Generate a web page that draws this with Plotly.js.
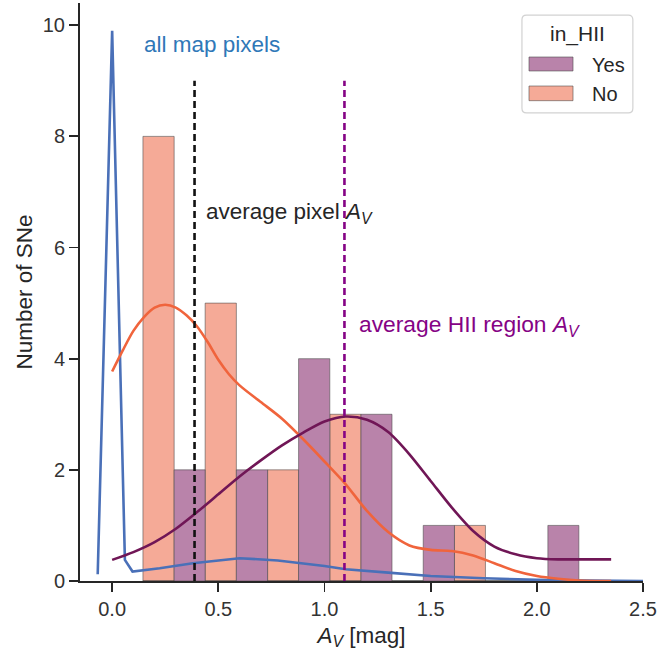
<!DOCTYPE html>
<html>
<head>
<meta charset="utf-8">
<script src="https://cdn.plot.ly/plotly-3.0.1.min.js"></script>
<style>html,body{margin:0;padding:0;background:#fff;}#chart{width:659px;height:656px;}</style>
</head>
<body>
<div id="chart"></div>
<script>
// ---- data ----
const binEdges = [0.145, 0.292, 0.438, 0.585, 0.732, 0.878, 1.025, 1.172, 1.318, 1.465, 1.612, 1.758, 1.905, 2.052, 2.198];
const countsYes = [0, 2, 0, 2, 0, 4, 0, 3, 0, 1, 0, 0, 0, 1];
const countsNo  = [8, 0, 5, 0, 2, 0, 3, 0, 0, 0, 1, 0, 0, 0];
const hueLevels = ["Yes", "No"];

const kdeYesX = [0.0, 0.1, 0.2, 0.3, 0.4, 0.5, 0.6, 0.7, 0.8, 0.9, 1.0, 1.1, 1.2, 1.3, 1.4, 1.5, 1.6, 1.7, 1.8, 1.9, 2.0, 2.1, 2.2, 2.35];
const kdeYesY = [0.38, 0.52, 0.70, 0.94, 1.24, 1.56, 1.88, 2.17, 2.44, 2.67, 2.87, 2.96, 2.90, 2.68, 2.28, 1.80, 1.32, 0.90, 0.62, 0.48, 0.41, 0.39, 0.39, 0.39];

const kdeNoX = [0.0, 0.05, 0.1, 0.15, 0.2, 0.25, 0.3, 0.35, 0.4, 0.45, 0.5, 0.55, 0.6, 0.7, 0.8, 0.9, 1.0, 1.1, 1.2, 1.3, 1.4, 1.5, 1.6, 1.7, 1.8, 1.9, 2.0, 2.1, 2.2, 2.35];
const kdeNoY = [3.77, 4.15, 4.5, 4.75, 4.92, 4.97, 4.92, 4.78, 4.58, 4.30, 3.98, 3.72, 3.52, 3.22, 2.92, 2.55, 2.15, 1.74, 1.26, 0.88, 0.64, 0.56, 0.54, 0.46, 0.32, 0.18, 0.09, 0.04, 0.01, 0.0];

const pixX = [-0.068, 0.0, 0.06, 0.096, 0.224, 0.38, 0.6, 0.78, 1.0, 1.1, 1.3, 1.5, 1.75, 2.0, 2.25, 2.5];
const pixY = [0.12, 9.9, 0.38, 0.17, 0.23, 0.32, 0.41, 0.37, 0.27, 0.21, 0.15, 0.09, 0.05, 0.02, 0.01, 0.0];

const meanPixelAv = 0.388;
const meanHIIAv = 1.094;
const meanLineTop = 9.0;

const xTickVals = [0.0, 0.5, 1.0, 1.5, 2.0, 2.5];
const xTickText = ["0.0", "0.5", "1.0", "1.5", "2.0", "2.5"];
const yTickVals = [0, 2, 4, 6, 8, 10];
const yTickText = ["0", "2", "4", "6", "8", "10"];

// ---- styles ----
const colYesBar = "#b983aa";
const colNoBar = "#f5aa97";
const colYesLine = "#701656";
const colNoLine = "#f0643c";
const colPix = "#4a70b8";
const edgeCol = "rgba(70,70,70,0.55)";
const FONT = "Liberation Sans, Arial, sans-serif";

const centers = binEdges.slice(0, -1).map((e, i) => (e + binEdges[i + 1]) / 2);
const widths = binEdges.slice(0, -1).map((e, i) => binEdges[i + 1] - e);

const traces = [
  {type: "bar", x: centers, y: countsNo, width: widths, name: hueLevels[1],
   marker: {color: colNoBar, line: {color: edgeCol, width: 1}}, showlegend: false, hoverinfo: "skip"},
  {type: "bar", x: centers, y: countsYes, width: widths, name: hueLevels[0],
   marker: {color: colYesBar, line: {color: edgeCol, width: 1}}, showlegend: false, hoverinfo: "skip"},
  {type: "scatter", mode: "lines", x: pixX, y: pixY, line: {color: colPix, width: 2.6}, showlegend: false},
  {type: "scatter", mode: "lines", x: kdeNoX, y: kdeNoY, line: {color: colNoLine, width: 2.6, shape: "spline", smoothing: 0.8}, showlegend: false},
  {type: "scatter", mode: "lines", x: kdeYesX, y: kdeYesY, line: {color: colYesLine, width: 2.6, shape: "spline", smoothing: 0.8}, showlegend: false}
];

// manual legend (paper coords)
function rrect(x0, y0, x1, y1, rx, ry) {
  return `M${x0+rx},${y0} L${x1-rx},${y0} Q${x1},${y0} ${x1},${y0+ry} L${x1},${y1-ry} Q${x1},${y1} ${x1-rx},${y1} L${x0+rx},${y1} Q${x0},${y1} ${x0},${y1-ry} L${x0},${y0+ry} Q${x0},${y0} ${x0+rx},${y0} Z`;
}

const shapes = [
  {type: "line", xref: "x", yref: "y", x0: meanPixelAv, x1: meanPixelAv, y0: 0, y1: meanLineTop,
   line: {color: "#111", width: 2.6, dash: "7px,4px"}, layer: "above"},
  {type: "line", xref: "x", yref: "y", x0: meanHIIAv, x1: meanHIIAv, y0: 0, y1: meanLineTop,
   line: {color: "#850385", width: 2.6, dash: "7px,4px"}, layer: "above"},
  {type: "path", xref: "paper", yref: "paper", path: rrect(0.785, 0.810, 0.982, 0.979, 0.008, 0.008),
   fillcolor: "#ffffff", line: {color: "#d2d2d2", width: 1.2}, layer: "above"},
  {type: "rect", xref: "paper", yref: "paper", x0: 0.7975, x1: 0.8757, y0: 0.8824, y1: 0.9066,
   fillcolor: colYesBar, line: {color: edgeCol, width: 1}, layer: "above"},
  {type: "rect", xref: "paper", yref: "paper", x0: 0.7975, x1: 0.8757, y0: 0.8310, y1: 0.8564,
   fillcolor: colNoBar, line: {color: edgeCol, width: 1}, layer: "above"}
];

const annotations = [
  {xref: "x", yref: "y", x: 0.142, y: 9.66, xanchor: "left", yanchor: "middle", showarrow: false,
   text: "all map pixels", font: {family: FONT, size: 22.5, color: "#2f78b8"}},
  {xref: "x", yref: "y", x: 0.432, y: 6.62, xanchor: "left", yanchor: "middle", showarrow: false,
   text: "average pixel <i>A</i><sub><i>V</i></sub>", font: {family: FONT, size: 22.5, color: "#262626"}},
  {xref: "x", yref: "y", x: 1.151, y: 4.6, xanchor: "left", yanchor: "middle", showarrow: false,
   text: "average HII region <i>A</i><sub><i>V</i></sub>", font: {family: FONT, size: 22.8, color: "#850385"}},
  {xref: "paper", yref: "paper", x: 0.883, y: 0.947, xanchor: "center", yanchor: "middle", showarrow: false,
   text: "in_HII", font: {family: FONT, size: 21, color: "#262626"}},
  {xref: "paper", yref: "paper", x: 0.905, y: 0.8935, xanchor: "left", yanchor: "middle", showarrow: false,
   text: hueLevels[0], font: {family: FONT, size: 20, color: "#262626"}},
  {xref: "paper", yref: "paper", x: 0.905, y: 0.842, xanchor: "left", yanchor: "middle", showarrow: false,
   text: hueLevels[1], font: {family: FONT, size: 20, color: "#262626"}}
];

const layout = {
  width: 659, height: 656,
  margin: {l: 80, r: 16, t: 3, b: 75, pad: 0},
  paper_bgcolor: "#fff", plot_bgcolor: "#fff",
  barmode: "overlay", bargap: 0,
  font: {family: FONT, size: 20, color: "#262626"},
  xaxis: {
    range: [-0.1514, 2.5], showgrid: false, zeroline: false,
    showline: true, linecolor: "#262626", linewidth: 2,
    ticks: "outside", ticklen: 9, tickwidth: 1.8, tickcolor: "#262626",
    tickvals: xTickVals, ticktext: xTickText,
    tickfont: {family: FONT, size: 20, color: "#333"},
    title: {text: "<i>A</i><sub><i>V</i></sub> [mag]", font: {family: FONT, size: 22.5, color: "#262626"}, standoff: 8}
  },
  yaxis: {
    range: [0, 10.4], showgrid: false, zeroline: false,
    showline: true, linecolor: "#262626", linewidth: 2,
    ticks: "outside", ticklen: 9, tickwidth: 1.8, tickcolor: "#262626",
    tickvals: yTickVals, ticktext: yTickText,
    tickfont: {family: FONT, size: 20, color: "#333"},
    title: {text: "Number of SNe", font: {family: FONT, size: 22.5, color: "#262626"}, standoff: 4}
  },
  shapes: shapes,
  annotations: annotations,
  showlegend: false
};

Plotly.newPlot("chart", traces, layout, {staticPlot: true, displayModeBar: false});
</script>
</body>
</html>
